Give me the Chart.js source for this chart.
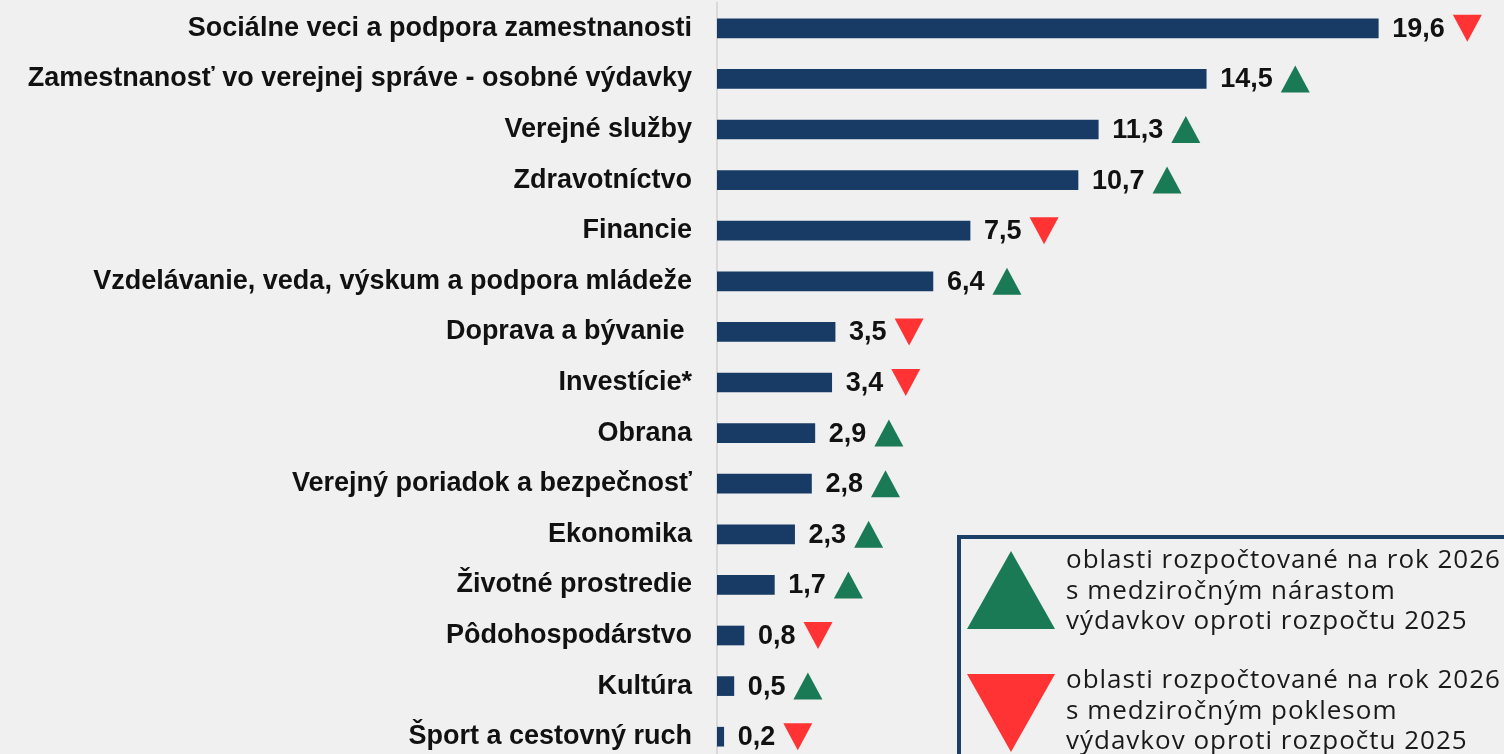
<!DOCTYPE html>
<html>
<head>
<meta charset="utf-8">
<script src="https://cdn.jsdelivr.net/npm/chart.js@4"></script>
<style>
    html, body { margin: 0; padding: 0; background: #f0f0f0; overflow: hidden; }
    #wrap { position: relative; width: 1504px; height: 764px; }
    #legend { position: absolute; left: 957px; top: 535px; width: 600px; height: 260px;
        border: 4px solid #1c3f66; box-sizing: border-box; }
    .tri { position: absolute; width: 0; height: 0; }
    .up { left: 967px; top: 551px; border-left: 44px solid transparent; border-right: 44px solid transparent;
        border-bottom: 78px solid #1a7a55; }
    .down { left: 967px; top: 674px; border-left: 44px solid transparent; border-right: 44px solid transparent;
        border-top: 78px solid #ff3333; }
    .legtxt { position: absolute; left: 1066px; font-family: "Open Sans", sans-serif; font-size: 26px;
        letter-spacing: 1px; line-height: 30.5px; color: #1a1a1a; white-space: nowrap; }
</style>
</head>
<body>
<div id="wrap">
    <canvas id="chart" width="1504" height="764"></canvas>
    <div id="legend"></div>
    <div class="tri up"></div>
    <div class="tri down"></div>
    <div class="legtxt" style="top:543px">oblasti rozpočtované na rok 2026<br>s medziročným nárastom<br>výdavkov oproti rozpočtu 2025</div>
    <div class="legtxt" style="top:663px">oblasti rozpočtované na rok 2026<br>s medziročným poklesom<br>výdavkov oproti rozpočtu 2025</div>
</div>
<script>
const categories = [
    'Sociálne veci a podpora zamestnanosti',
    'Zamestnanosť vo verejnej správe - osobné výdavky',
    'Verejné služby',
    'Zdravotníctvo',
    'Financie',
    'Vzdelávanie, veda, výskum a podpora mládeže',
    'Doprava a bývanie ',
    'Investície*',
    'Obrana',
    'Verejný poriadok a bezpečnosť',
    'Ekonomika',
    'Životné prostredie',
    'Pôdohospodárstvo',
    'Kultúra',
    'Šport a cestovný ruch'
];
const values = [19.6, 14.5, 11.3, 10.7, 7.5, 6.4, 3.5, 3.4, 2.9, 2.8, 2.3, 1.7, 0.8, 0.5, 0.2];
// year-on-year change vs. budget 2025
const trend = ['down', 'up', 'up', 'up', 'down', 'up', 'down', 'down', 'up', 'up', 'up', 'up', 'down', 'up', 'down'];

const BAR = '#173b64';
const GREEN = '#1a7a55';
const RED = '#ff3333';

// value labels + trend triangles after every bar
const valueMarks = {
    id: 'valueMarks',
    afterDatasetsDraw(chart) {
        const ctx = chart.ctx;
        const meta = chart.getDatasetMeta(0);
        ctx.save();
        ctx.font = 'bold 27px "Liberation Sans", Arial, sans-serif';
        ctx.textBaseline = 'middle';
        ctx.textAlign = 'left';
        meta.data.forEach((bar, i) => {
            const txt = values[i].toFixed(1).replace('.', ',');
            const x = bar.x + 14;
            ctx.fillStyle = '#111';
            ctx.fillText(txt, x, bar.y + 1);
            const w = ctx.measureText(txt).width;
            const tx = x + w + 8, tw = 29, th = 27;
            ctx.beginPath();
            if (trend[i] === 'up') {
                ctx.fillStyle = GREEN;
                ctx.moveTo(tx, bar.y + th / 2);
                ctx.lineTo(tx + tw, bar.y + th / 2);
                ctx.lineTo(tx + tw / 2, bar.y - th / 2);
            } else {
                ctx.fillStyle = RED;
                ctx.moveTo(tx, bar.y - th / 2);
                ctx.lineTo(tx + tw, bar.y - th / 2);
                ctx.lineTo(tx + tw / 2, bar.y + th / 2);
            }
            ctx.closePath();
            ctx.fill();
        });
        ctx.restore();
    }
};

new Chart(document.getElementById('chart'), {
    type: 'bar',
    data: {
        labels: categories,
        datasets: [{
            data: values,
            backgroundColor: BAR,
            barThickness: 19,
            categoryPercentage: 1
        }]
    },
    options: {
        indexAxis: 'y',
        responsive: false,
        animation: false,
        layout: { padding: { top: 3, bottom: 2, right: 11, left: 0 } },
        plugins: { legend: { display: false }, tooltip: { enabled: false } },
        scales: {
            x: { display: false, min: 0, max: 23 },
            y: {
                grid: { display: false, drawTicks: false },
                border: { display: true, color: '#d9d9d9', width: 2 },
                ticks: {
                    color: '#111',
                    padding: 25,
                    font: { family: '"Liberation Sans", Arial, sans-serif', size: 27, weight: 'bold' }
                },
                afterFit(scale) {
                    scale.width = 717;
                    scale.paddingTop = 0;
                    scale.paddingBottom = 0;
                }
            }
        }
    },
    plugins: [valueMarks]
});
</script>
</body>
</html>
